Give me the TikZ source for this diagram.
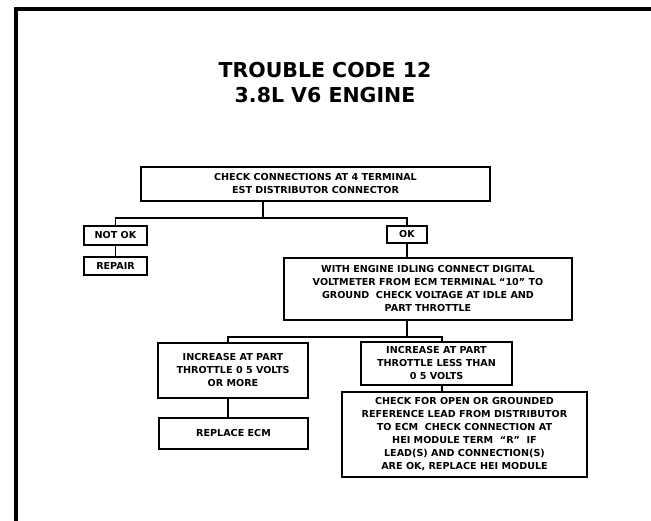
\documentclass[tikz,border=0pt]{standalone}
\usepackage{fontspec}
\newfontfamily\boxfnt{DejaVu Sans}
\newfontfamily\titlefnt{DejaVu Sans}
\begin{document}
\begin{tikzpicture}[x=1bp,y=-1bp,
  box/.style={draw, line width=1.7bp, inner sep=0pt, align=center,
    font=\boxfnt\bfseries\fontsize{9.6bp}{13bp}\selectfont},
  conn/.style={line width=1.7bp},
  frame/.style={line width=3.5bp}]
\useasboundingbox (0,0) rectangle (651,521);
\clip (0,0) rectangle (651,521);
% outer frame (cropped)
\draw[frame] (16,540) -- (16,9) -- (670,9);
% title
\node[font=\titlefnt\bfseries\fontsize{20.5bp}{25bp}\selectfont, align=center, inner sep=0pt] (title) at (325,83) {TROUBLE CODE 12\\3.8L V6 ENGINE};
% boxes
\node[box, minimum width=349bp, minimum height=34bp] (b1) at (315.5,184) {CHECK CONNECTIONS AT 4 TERMINAL\\EST DISTRIBUTOR CONNECTOR};
\node[box, minimum width=63bp, minimum height=19bp] (notok) at (115.5,235.5) {NOT OK};
\node[box, minimum width=63bp, minimum height=18bp] (repair) at (115.5,266) {REPAIR};
\node[box, minimum width=40bp, minimum height=17bp] (ok) at (407,234.5) {OK};
\node[box, minimum width=288bp, minimum height=62bp] (b3) at (428,289) {WITH ENGINE IDLING CONNECT DIGITAL\\VOLTMETER FROM ECM TERMINAL “10” TO\\GROUND\ \ CHECK VOLTAGE AT IDLE AND\\PART THROTTLE};
\node[box, minimum width=150bp, minimum height=55bp] (left) at (233,370.5) {INCREASE AT PART\\THROTTLE 0 5 VOLTS\\OR MORE};
\node[box, minimum width=149bp, minimum height=31bp] (replace) at (233.5,433.5) {REPLACE ECM};
\node[box, minimum width=151bp, minimum height=43bp] (right) at (436.5,363.5) {INCREASE AT PART\\THROTTLE LESS THAN\\0 5 VOLTS};
\node[box, minimum width=245bp, minimum height=85bp] (check) at (464.5,434.5) {CHECK FOR OPEN OR GROUNDED\\REFERENCE LEAD FROM DISTRIBUTOR\\TO ECM\ \ CHECK CONNECTION AT\\HEI MODULE TERM\ \ “R”\ \ IF\\LEAD(S) AND CONNECTION(S)\\ARE OK, REPLACE HEI MODULE};
% junctions
\coordinate (j1) at (263,218);
\coordinate (j2) at (407,337);
% connectors
\draw[conn] (b1.south -| j1) -- (j1);
\draw[conn] (notok.north) -- (notok.north |- j1) -- (ok.north |- j1) -- (ok.north);
\draw[conn] (notok.south) -- (repair.north);
\draw[conn] (ok.south) -- (ok.south |- b3.north);
\draw[conn] (b3.south -| j2) -- (j2);
\draw[conn] (left.north -| 228,0) -- (228,337) -- (442,337) -- (right.north -| 442,0);
\draw[conn] (228,398) -- (228,418);
\draw[conn] (right.south -| 442,0) -- (check.north -| 442,0);
\end{tikzpicture}
\end{document}
